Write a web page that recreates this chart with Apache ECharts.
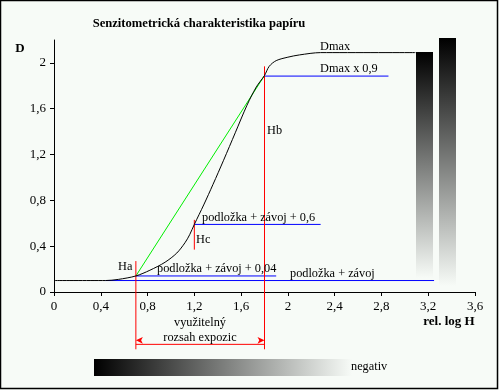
<!DOCTYPE html>
<html><head><meta charset="utf-8">
<script src="https://cdn.jsdelivr.net/npm/echarts@6/dist/echarts.min.js"></script>
<style>html,body{margin:0;padding:0;background:#f7fbf7}#c{width:499px;height:390px}</style>
</head><body><div id="c"></div>
<script>
// ---- data ----
const yTickValues = [0, 0.4, 0.8, 1.2, 1.6, 2];
// characteristic curve (rel. log H, D)
const curveX = [0, 0.44, 0.55, 0.7, 0.82, 0.95, 1.05, 1.12, 1.16, 1.2, 1.28, 1.36, 1.45, 1.55, 1.65, 1.73, 1.8, 1.84, 1.9, 2.0, 2.1, 2.28, 3.09];
const curveD = [0.1, 0.1, 0.11, 0.14, 0.19, 0.26, 0.34, 0.43, 0.5, 0.59, 0.76, 0.94, 1.15, 1.39, 1.63, 1.79, 1.89, 1.97, 2.02, 2.05, 2.07, 2.09, 2.09];
const gradientX = [0.7, 1.8];
const gradientD = [0.14, 1.89];
const fogX = [0.44, 3.25];           const fogD = [0.1, 0.1];
const fog004X = [0.7, 1.9];          const fog004D = [0.14, 0.14];
const fog06X = [1.2, 2.28];          const fog06D = [0.59, 0.59];
const dmax09X = [1.8, 2.86];         const dmax09D = [1.885, 1.885];
const haX = [0.7, 0.7];              const haD = [0.27, -0.5];
const hbX = [1.8, 1.8];              const hbD = [1.97, -0.5];
const hcX = [1.2, 1.2];              const hcD = [0.63, 0.37];
const rangeX = [0.7, 1.8];           const rangeD = [-0.457, -0.457];

const pts = (xs, ds) => xs.map((x, i) => [x, ds[i]]);
const fmt = v => String(+(+v).toFixed(1)).replace('.', ',');
const SERIF = '"Liberation Serif", "Times New Roman", serif';

function lineSeries(data, color, extra) {
  return Object.assign({
    type: 'line', data: data, symbol: 'none', clip: false, silent: true,
    lineStyle: { color: color, width: 1 }, animation: false, z: 3
  }, extra || {});
}

const chart = echarts.init(document.getElementById('c'), null, { renderer: 'canvas' });
const txt = (text, x, y, opt) => Object.assign({
  type: 'text', x: x, y: y, silent: true, z: 20,
  style: Object.assign({ text: text, font: '12.3px ' + SERIF, fill: '#000', align: 'left', verticalAlign: 'middle' }, opt || {})
});
const vgrad = { type: 'linear', x: 0, y: 0, x2: 0, y2: 1, colorStops: [{ offset: 0, color: '#000' }, { offset: 1, color: '#f7fbf7' }] };
const hgrad = { type: 'linear', x: 0, y: 0, x2: 1, y2: 0, colorStops: [{ offset: 0, color: '#000' }, { offset: 1, color: '#f7fbf7' }] };

chart.setOption({
  animation: false,
  backgroundColor: '#f7fbf7',
  grid: { left: 54, right: 24, top: 40, bottom: 98, containLabel: false },
  xAxis: {
    type: 'value', min: 0, max: 3.6, interval: 0.4,
    axisLine: { lineStyle: { color: '#000', width: 1 } },
    axisTick: { show: true, length: 4, lineStyle: { color: '#000' } },
    splitLine: { show: false },
    axisLabel: { formatter: fmt, color: '#000', fontFamily: SERIF, fontSize: 13, margin: 8 }
  },
  yAxis: {
    type: 'value', min: 0, max: 2.2,
    axisLine: { show: true, lineStyle: { color: '#000', width: 1 } },
    axisTick: { show: true, length: 4, lineStyle: { color: '#000' }, customValues: yTickValues },
    splitLine: { show: false },
    axisLabel: { formatter: fmt, color: '#000', fontFamily: SERIF, fontSize: 13, margin: 8, customValues: yTickValues }
  },
  series: [
    lineSeries(pts(fogX, fogD), '#0000ff'),
    lineSeries(pts(fog004X, fog004D), '#0000ff'),
    lineSeries(pts(fog06X, fog06D), '#0000ff'),
    lineSeries(pts(dmax09X, dmax09D), '#0000ff'),
    lineSeries(pts(gradientX, gradientD), '#00ee00'),
    lineSeries(pts(curveX, curveD), '#000000', { smooth: 0.3, z: 4 }),
    lineSeries(pts(haX, haD), '#ff0000'),
    lineSeries(pts(hbX, hbD), '#ff0000'),
    lineSeries(pts(hcX, hcD), '#ff0000'),
    lineSeries([
      { value: [rangeX[0], rangeD[0]], symbol: 'arrow', symbolRotate: 90, symbolOffset: [0, -4] },
      { value: [rangeX[1], rangeD[1]], symbol: 'arrow', symbolRotate: -90, symbolOffset: [0, -4] }
    ], '#ff0000', { showSymbol: true, symbolSize: [5, 7], itemStyle: { color: '#ff0000' } })
  ],
  graphic: [
    { type: 'rect', silent: true, z: -1, shape: { x: 0.5, y: 0.5, width: 497, height: 388 }, style: { fill: 'none', stroke: '#000', lineWidth: 1.5 } },
    { type: 'rect', silent: true, z: 1, shape: { x: 416, y: 52, width: 17, height: 226 }, style: { fill: vgrad } },
    { type: 'rect', silent: true, z: 1, shape: { x: 439, y: 38, width: 17, height: 248 }, style: { fill: vgrad } },
    { type: 'rect', silent: true, z: 1, shape: { x: 94, y: 359, width: 258, height: 17 }, style: { fill: hgrad } },
    txt('Senzitometrická charakteristika papíru', 199, 24, { font: 'bold 12.6px ' + SERIF, align: 'center' }),
    txt('D', 20, 49, { font: 'bold 13px ' + SERIF, align: 'center' }),
    txt('rel. log H', 449, 322, { font: 'bold 13px ' + SERIF, align: 'center' }),
    txt('Dmax', 320, 47),
    txt('Dmax x 0,9', 320, 69),
    txt('Hb', 267, 131),
    txt('podložka + závoj + 0,6', 202, 218),
    txt('Hc', 196, 240),
    txt('Ha', 118, 267),
    txt('podložka + závoj + 0,04', 157, 269),
    txt('podložka + závoj', 290, 274),
    txt('využitelný', 200, 323, { align: 'center' }),
    txt('rozsah expozic', 200, 338, { align: 'center' }),
    txt('negativ', 351, 367)
  ]
});
</script></body></html>
